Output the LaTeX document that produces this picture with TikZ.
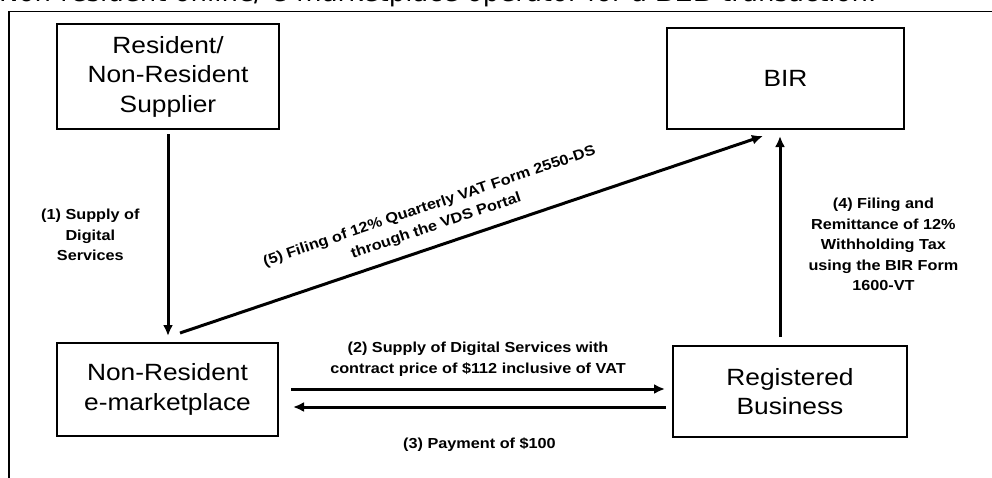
\documentclass[tikz,border=0pt]{standalone}
\usepackage{fontspec}
\setmainfont{Liberation Sans}[FakeStretch=1.12]
\newfontfamily\capfont{DejaVu Sans}
\usetikzlibrary{arrows.meta,calc}
\begin{document}
\begin{tikzpicture}[x=1pt,y=-1pt,
  box/.style={draw,line width=2pt,inner sep=0pt,align=center,font=\fontsize{23.5}{29.5}\selectfont},
  arr/.style={line width=3pt,-{Latex[length=11pt,width=10pt]}},
  lbl/.style={font=\bfseries\fontsize{14.5}{20.5}\selectfont,align=center,inner sep=2pt},
  frameline/.style={line width=1.5pt}
]
\useasboundingbox (0,0) rectangle (992,477);
\clip (0,0) rectangle (992,477);
\fill[white] (0,0) rectangle (992,477);
\node[font=\capfont\fontsize{26}{30}\selectfont, anchor=base west, inner sep=0pt] (cap) at (-1,1.5)
  {Non-resident online/ e-marketplace operator for a \textbf{B2B} transaction.};
\draw[frameline] (9,480) -- (9,11.5) -- (995,11.5);

\node[box,minimum width=222pt,minimum height=105pt] (sup) at (168,76.5) {Resident/\\Non-Resident\\Supplier};
\node[box,minimum width=221pt,minimum height=93pt] (nrm) at (167.5,389.5) {Non-Resident\\e-marketplace};
\node[box,minimum width=237pt,minimum height=101pt] (bir) at (785.5,78.5) {BIR};
\node[box,minimum width=234pt,minimum height=91pt] (rb) at (790,391.5) {Registered\\Business};

\draw[arr] ($(sup.south)+(0,4)$) -- node[lbl,midway,left=25pt]{(1) Supply of\\Digital\\Services} ($(sup.south |- nrm.north)+(0,-6)$);
\draw[arr] ($(nrm.north)+(12.5,-9)$) -- node[lbl,pos=0.45,sloped,above=9pt]{(5) Filing of 12\% Quarterly VAT Form 2550-DS\\through the VDS Portal} ($(bir.south)+(-22.5,6)$);
\draw[arr] ($(rb.north)+(-10,-8)$) -- node[lbl,midway,right=25pt,yshift=-8pt]{(4) Filing and\\Remittance of 12\%\\Withholding Tax\\using the BIR Form\\1600-VT} ($(bir.south -| rb.north)+(-10,6)$);
\draw[arr] ($(nrm.east)+(12,-0.5)$) -- node[lbl,midway,above=9pt]{(2) Supply of Digital Services with\\contract price of \$112 inclusive of VAT} ($(rb.west |- nrm.east)+(-7,-0.5)$);
\draw[arr] ($(rb.west |- nrm.east)+(-6,17.5)$) -- node[lbl,midway,below=27pt]{(3) Payment of \$100} ($(nrm.east)+(14,17.5)$);
\end{tikzpicture}
\end{document}
